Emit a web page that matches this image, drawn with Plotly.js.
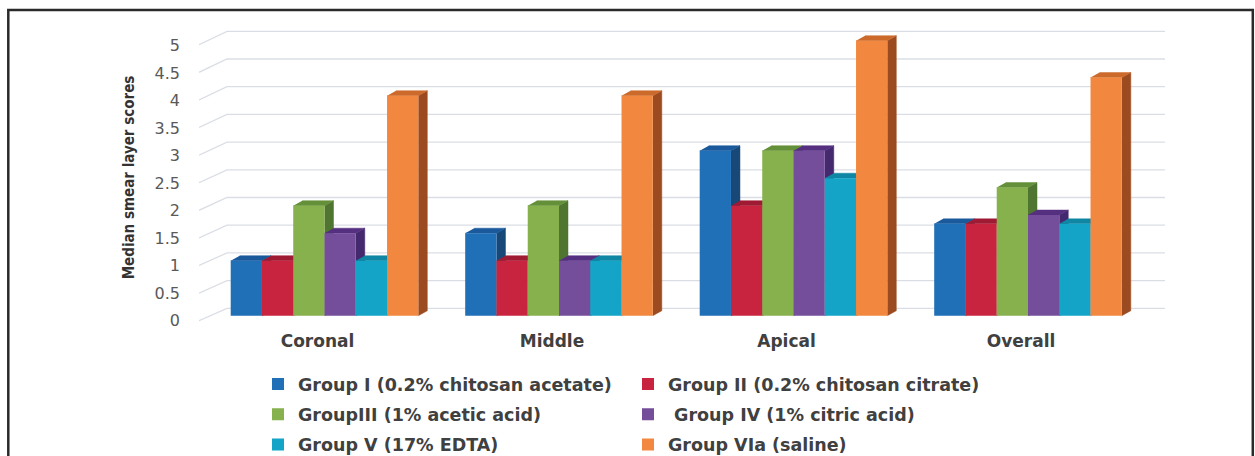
<!DOCTYPE html>
<html><head><meta charset="utf-8">
<script src="https://cdn.plot.ly/plotly-3.0.1.min.js"></script>
<style>html,body{margin:0;padding:0;background:#fff;overflow:hidden}
#wrap{width:1255px;height:456px;overflow:hidden;position:relative}
#chart{width:1255px;height:470px}</style>
</head><body><div id="wrap"><div id="chart"></div></div>
<script>
// ---- data ----
const categories = ['Coronal', 'Middle', 'Apical', 'Overall'];
const seriesNames = [
  'Group I (0.2% chitosan acetate)',
  'Group II (0.2% chitosan citrate)',
  'GroupIII (1% acetic acid)',
  '\u00A0Group IV (1% citric acid)',
  'Group V (17% EDTA)',
  'Group VIa (saline)'
];
const groupI   = [1,   1.5, 3,   1.67];
const groupII  = [1,   1,   2,   1.67];
const groupIII = [2,   2,   3,   2.33];
const groupIV  = [1.5, 1,   3,   1.83];
const groupV   = [1,   1,   2.5, 1.67];
const groupVIa = [4,   4,   5,   4.33];
const yTickVals = [0, 0.5, 1, 1.5, 2, 2.5, 3, 3.5, 4, 4.5, 5];
const yTickText = ['0', '0.5', '1', '1.5', '2', '2.5', '3', '3.5', '4', '4.5', '5'];

// ---- styles ----
const frontColors = ['#2070B8', '#C8243F', '#87B14D', '#754E9B', '#13A4C8', '#F2883F'];
const topColors   = ['#1A5A9C', '#9E1B33', '#64903A', '#552F80', '#0E86A4', '#CC6A2C'];
const sideColors  = ['#174878', '#86172B', '#4F7530', '#45296E', '#0D7390', '#9C4B20'];

// ---- geometry (pixels, measured from the top-left of the figure) ----
const W = 1255, HL = 470;          // layout height (only the top 456 px are visible)
const PL = 199, PR = 1165, PT = 25, PB = 330;
const C0 = 324.5, CAT = 234.5, Y0 = 315.7, UNIT = 55;
const xRange = [(PL - C0) / CAT, (PR - C0) / CAT];
const yRange = [-(PB - Y0) / UNIT, (Y0 - PT) / UNIT];
const DX = 9 / CAT, DY = 5 / UNIT;
const BX = (227 - C0) / CAT;
const backY = t => (Y0 - (308.3 - 55.4 * t)) / UNIT;
const frontY = t => (Y0 - (320.7 - 55.2 * t)) / UNIT;

const allSeries = [groupI, groupII, groupIII, groupIV, groupV, groupVIa];
const nS = allSeries.length;
const groupW = 0.8, bw = groupW / nS;
const catX = categories.map((c, k) => k);

const traces = [];
// back wall gridlines + slanted side-wall lines
const gx = [], gy = [];
yTickVals.forEach(t => {
  gx.push(xRange[0], BX, xRange[1], null);
  gy.push(frontY(t), backY(t), backY(t), null);
});
traces.push({type: 'scatter', mode: 'lines', x: gx, y: gy, line: {color: '#DADEE4', width: 1.3},
  hoverinfo: 'skip', showlegend: false});

// side faces
allSeries.forEach((vals, i) => {
  const xs = [], ys = [];
  vals.forEach((v, k) => {
    const xl = catX[k] - groupW / 2 + i * bw, xr = xl + bw;
    xs.push(xr, xr + DX, xr + DX, xr, null);
    ys.push(0, DY, v + DY, v, null);
  });
  traces.push({type: 'scatter', mode: 'lines', x: xs, y: ys, fill: 'toself', fillcolor: sideColors[i],
    line: {color: sideColors[i], width: 0.5}, hoverinfo: 'skip', showlegend: false});
});
// top faces
allSeries.forEach((vals, i) => {
  const xs = [], ys = [];
  vals.forEach((v, k) => {
    const xl = catX[k] - groupW / 2 + i * bw, xr = xl + bw;
    xs.push(xl, xr, xr + DX, xl + DX, null);
    ys.push(v, v, v + DY, v + DY, null);
  });
  traces.push({type: 'scatter', mode: 'lines', x: xs, y: ys, fill: 'toself', fillcolor: topColors[i],
    line: {color: topColors[i], width: 0.5}, hoverinfo: 'skip', showlegend: false});
});
// front faces (real bars, on overlay axes so they sit above the 3D faces)
allSeries.forEach((vals, i) => {
  traces.push({type: 'bar', x: catX, y: vals, name: seriesNames[i],
    xaxis: 'x2', yaxis: 'y2', width: bw, offset: -groupW / 2 + i * bw,
    marker: {color: frontColors[i], line: {width: 0}},
    legend: i % 2 === 0 ? 'legend' : 'legend2', legendgroup: 'g' + i, hoverinfo: 'skip'});
});

const legendFont = {family: 'DejaVu Sans', size: 17.5, color: '#404040', weight: 'bold'};
const layout = {
  width: W, height: HL,
  margin: {l: 0, r: 0, t: 0, b: 0},
  paper_bgcolor: '#ffffff', plot_bgcolor: 'rgba(0,0,0,0)',
  barmode: 'overlay',
  showlegend: true,
  xaxis: {domain: [PL / W, PR / W], range: xRange, tickmode: 'array', tickvals: catX, ticktext: categories,
    showgrid: false, zeroline: false, showline: false, ticks: '', ticklabelshift: -7, ticklabelstandoff: -1,
    tickfont: {family: 'DejaVu Sans', size: 17, color: '#404040', weight: 'bold'}, fixedrange: true},
  yaxis: {domain: [1 - PB / HL, 1 - PT / HL], range: yRange, tickmode: 'array', tickvals: yTickVals, ticktext: yTickText,
    showgrid: false, zeroline: false, showline: false, ticks: '', ticklabelshift: 5, ticklabelstandoff: 18,
    tickfont: {family: 'DejaVu Sans', size: 16, color: '#595959'}, fixedrange: true,
    title: {text: 'Median smear layer scores', standoff: 16,
      font: {family: 'DejaVu Sans Condensed, DejaVu Sans, sans-serif', size: 15, color: '#333333', weight: 'bold'}}},
  xaxis2: {overlaying: 'x', anchor: 'y2', range: xRange, visible: false, fixedrange: true},
  yaxis2: {overlaying: 'y', anchor: 'x2', range: yRange, visible: false, fixedrange: true},
  legend: {x: 258 / W, y: 1 - 366.2 / HL, xanchor: 'left', yanchor: 'top', orientation: 'v',
    font: legendFont, tracegroupgap: 4.5, bgcolor: 'rgba(0,0,0,0)', itemclick: false, itemdoubleclick: false},
  legend2: {x: 628 / W, y: 1 - 366.2 / HL, xanchor: 'left', yanchor: 'top', orientation: 'v',
    font: legendFont, tracegroupgap: 4.5, bgcolor: 'rgba(0,0,0,0)', itemclick: false, itemdoubleclick: false},
  shapes: [{type: 'rect', xref: 'paper', yref: 'paper', x0: 8.3 / W, x1: 1252.8 / W, y0: 1 - 490 / HL, y1: 1 - 10 / HL,
    line: {color: '#2a2a2a', width: 2.5}, fillcolor: 'rgba(0,0,0,0)', layer: 'above'}]
};
Plotly.newPlot('chart', traces, layout, {displayModeBar: false, staticPlot: true});
</script></body></html>
